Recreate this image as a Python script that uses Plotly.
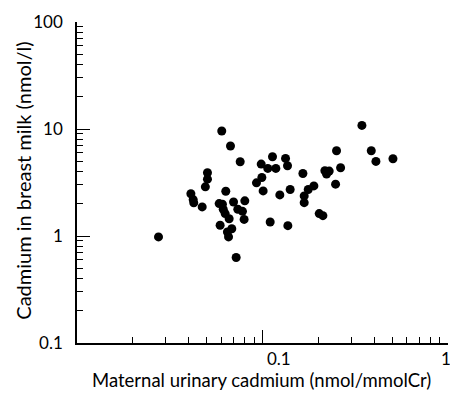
import plotly.graph_objects as go

urinary_cd = [0.275, 0.603, 0.672, 0.758, 0.411, 0.423, 0.426, 0.473, 0.505, 0.505,
              0.492, 0.634, 0.584, 0.608, 0.614, 0.629, 0.698, 0.803, 0.736, 0.780,
              0.796, 0.661, 0.591, 0.683, 0.647, 0.656, 0.721, 0.928, 0.992, 0.984,
              1.008, 1.068, 1.132, 1.180, 1.331, 1.364, 1.240, 1.410, 1.100, 1.370,
              1.651, 1.678, 1.678, 1.764, 1.892, 2.022, 2.116, 2.169, 2.215, 2.289,
              2.507, 2.636, 2.477, 3.435, 3.858, 4.088, 5.05]
milk_cd = [0.98, 9.58, 6.93, 4.94, 2.48, 2.19, 2.04, 1.87, 3.90, 3.40,
           2.88, 2.62, 2.01, 1.98, 1.78, 1.62, 2.08, 2.13, 1.78, 1.70,
           1.43, 1.45, 1.26, 1.17, 1.09, 0.98, 0.63, 3.14, 3.52, 4.70,
           2.64, 4.28, 5.50, 4.28, 5.31, 4.53, 2.42, 2.72, 1.35, 1.25,
           3.84, 2.37, 2.05, 2.72, 2.94, 1.62, 1.55, 4.07, 3.79, 4.04,
           6.26, 4.34, 3.05, 10.8, 6.26, 4.98, 5.27]

x_ticks = [0.1, 1, 10]
x_ticktext = ["0.1", "1", "10"]
y_ticks = [0.1, 1, 10, 100]
y_ticktext = ["0.1", "1", "10", "100"]

x_title = "Maternal urinary cadmium (nmol/mmolCr)"
y_title = "Cadmium in breast milk (nmol/l)"

FONT = "Lato"

fig = go.Figure()
fig.add_trace(go.Scatter(
    x=urinary_cd, y=milk_cd, mode="markers",
    marker=dict(color="black", size=9, line=dict(width=0)),
    showlegend=False,
))

def minor_vals(decades):
    vals = []
    for d in decades:
        for k in range(2, 10):
            vals.append(k * 10 ** d)
    return vals

axis_common = dict(
    type="log",
    ticks="inside", ticklen=13, tickwidth=1.2, tickcolor="black",
    showline=True, linecolor="black", linewidth=1.5,
    showgrid=False, zeroline=False, automargin=False,
    tickfont=dict(size=17), ticklabeloverflow="allow",
)

# x tick labels drawn as annotations placed on the x axis scale (keeps "10" inside the page)
x_label_annotations = [
    dict(text=t, xref="x", yref="paper", x=v, y=0, xanchor="center", yanchor="top",
         xshift=-2.5, yshift=-3, showarrow=False,
         font=dict(size=17, family=FONT, color="black"))
    for v, t in zip(x_ticks, x_ticktext)
]

# The page body adds an 8px offset, so the figure is 450x385 inside the 458x393 window.
fig.update_layout(
    width=450, height=385,
    margin=dict(l=69, r=10, t=14, b=50),
    plot_bgcolor="white", paper_bgcolor="white",
    font=dict(family=FONT, color="black", size=17),
    xaxis=dict(
        range=[-1, 1], tickvals=x_ticks, ticktext=x_ticktext, showticklabels=False,
        minor=dict(tickvals=minor_vals([-1, 0]), ticks="inside", ticklen=6,
                   tickwidth=1.2, tickcolor="black", showgrid=False),
        **axis_common,
    ),
    yaxis=dict(
        range=[-1, 2], tickvals=y_ticks, ticktext=y_ticktext,
        minor=dict(tickvals=minor_vals([-1, 0, 1]), ticks="inside", ticklen=6,
                   tickwidth=1.2, tickcolor="black", showgrid=False),
        ticklabelstandoff=9, **axis_common,
    ),
    annotations=x_label_annotations + [
        dict(text=x_title, xref="paper", yref="paper", x=0.497, y=-0.1558,
             xanchor="center", yanchor="bottom", showarrow=False,
             font=dict(size=18.5, family=FONT, color="black")),
        dict(text=y_title, xref="paper", yref="paper", x=-0.146, y=0.505,
             xanchor="center", yanchor="middle", textangle=-90, showarrow=False,
             font=dict(size=20, family=FONT, color="black")),
    ],
)

fig.write_html("out.html")
